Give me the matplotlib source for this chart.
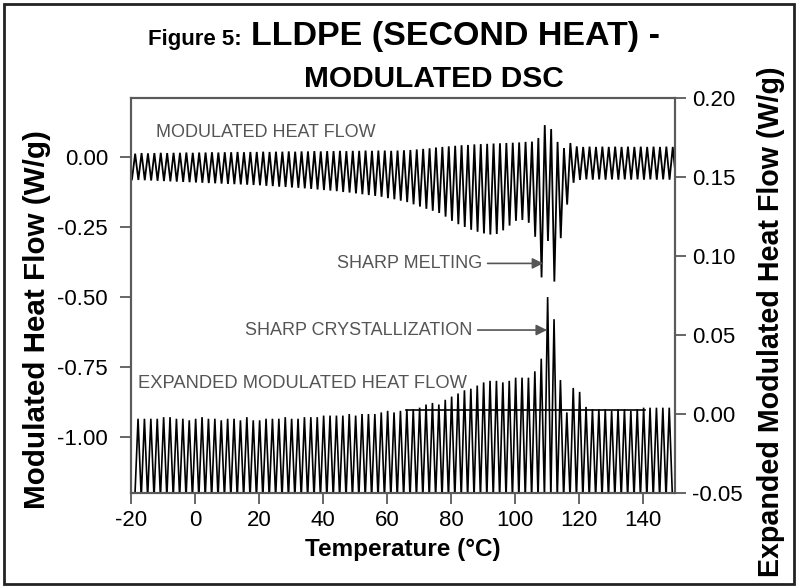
import numpy as np
import matplotlib
matplotlib.use("Agg")
import matplotlib.pyplot as plt
from matplotlib.patches import Rectangle

plt.rcParams['font.family'] = ['Liberation Sans', 'DejaVu Sans']

# ---------------- data ----------------
# Modulated heat flow (left axis, W/g): temperatures of each peak / trough and values
top_peak_T = [-18.7, -16.7, -14.7, -12.7, -10.7, -8.7, -6.7, -4.7, -2.7, -0.7,
              1.3, 3.3, 5.3, 7.3, 9.3, 11.3, 13.3, 15.3, 17.3, 19.3,
              21.3, 23.3, 25.3, 27.3, 29.3, 31.3, 33.3, 35.3, 37.3, 39.3,
              41.3, 43.3, 45.3, 47.3, 49.3, 51.3, 53.3, 55.3, 57.3, 59.3,
              61.3, 63.3, 65.3, 67.3, 69.3, 71.3, 73.3, 75.3, 77.3, 79.3,
              81.3, 83.3, 85.3, 87.3, 89.3, 91.3, 93.3, 95.3, 97.3, 99.3,
              101.3, 103.3, 105.3, 107.3, 109.3, 111.3, 113.3, 115.3, 117.3, 119.3,
              121.3, 123.3, 125.3, 127.3, 129.3, 131.3, 133.3, 135.3, 137.3, 139.3,
              141.3, 143.3, 145.3, 147.3, 149.3]
top_peak_val = [0.012, 0.014, 0.013, 0.014, 0.015, 0.014, 0.015, 0.015, 0.016, 0.015,
                0.016, 0.016, 0.017, 0.016, 0.017, 0.017, 0.018, 0.017, 0.018, 0.018,
                0.019, 0.018, 0.019, 0.019, 0.020, 0.019, 0.020, 0.020, 0.021, 0.020,
                0.021, 0.021, 0.022, 0.021, 0.022, 0.022, 0.023, 0.022, 0.023, 0.023,
                0.022, 0.023, 0.024, 0.025, 0.027, 0.029, 0.031, 0.034, 0.036, 0.038,
                0.040, 0.042, 0.043, 0.045, 0.046, 0.047, 0.048, 0.049, 0.050, 0.051,
                0.052, 0.054, 0.055, 0.068, 0.114, 0.100, 0.054, 0.032, 0.050, 0.038,
                0.036, 0.037, 0.036, 0.037, 0.036, 0.037, 0.036, 0.037, 0.036, 0.037,
                0.036, 0.037, 0.036, 0.037, 0.036]
top_trough_T = [-19.7, -17.7, -15.7, -13.7, -11.7, -9.7, -7.7, -5.7, -3.7, -1.7,
                0.3, 2.3, 4.3, 6.3, 8.3, 10.3, 12.3, 14.3, 16.3, 18.3,
                20.3, 22.3, 24.3, 26.3, 28.3, 30.3, 32.3, 34.3, 36.3, 38.3,
                40.3, 42.3, 44.3, 46.3, 48.3, 50.3, 52.3, 54.3, 56.3, 58.3,
                60.3, 62.3, 64.3, 66.3, 68.3, 70.3, 72.3, 74.3, 76.3, 78.3,
                80.3, 82.3, 84.3, 86.3, 88.3, 90.3, 92.3, 94.3, 96.3, 98.3,
                100.3, 102.3, 104.3, 106.3, 108.3, 110.3, 112.3, 114.3, 116.3, 118.3,
                120.3, 122.3, 124.3, 126.3, 128.3, 130.3, 132.3, 134.3, 136.3, 138.3,
                140.3, 142.3, 144.3, 146.3, 148.3, 150.3]
top_trough_val = [-0.080, -0.082, -0.083, -0.084, -0.085, -0.086, -0.087, -0.088, -0.089, -0.090,
                  -0.091, -0.092, -0.093, -0.094, -0.095, -0.096, -0.097, -0.098, -0.099, -0.100,
                  -0.101, -0.103, -0.104, -0.106, -0.107, -0.109, -0.110, -0.112, -0.114, -0.116,
                  -0.118, -0.120, -0.122, -0.125, -0.127, -0.130, -0.133, -0.136, -0.139, -0.142,
                  -0.147, -0.151, -0.156, -0.161, -0.169, -0.177, -0.185, -0.192, -0.200, -0.213,
                  -0.228, -0.240, -0.250, -0.260, -0.267, -0.273, -0.277, -0.275, -0.262, -0.245,
                  -0.228, -0.225, -0.235, -0.285, -0.430, -0.300, -0.445, -0.290, -0.170, -0.092,
                  -0.082, -0.080, -0.081, -0.080, -0.081, -0.080, -0.081, -0.080, -0.081, -0.080,
                  -0.081, -0.080, -0.081, -0.080, -0.081, -0.080]

# Expanded modulated heat flow (right axis, W/g): peaks; troughs run off the bottom of the scale
exp_peak_T = [-17.8, -15.8, -13.8, -11.8, -9.8, -7.8, -5.8, -3.8, -1.8, 0.2,
              2.2, 4.2, 6.2, 8.2, 10.2, 12.2, 14.2, 16.2, 18.2, 20.2,
              22.2, 24.2, 26.2, 28.2, 30.2, 32.2, 34.2, 36.2, 38.2, 40.2,
              42.2, 44.2, 46.2, 48.2, 50.2, 52.2, 54.2, 56.2, 58.2, 60.2,
              62.2, 64.2, 66.2, 68.2, 70.2, 72.2, 74.2, 76.2, 78.2, 80.2,
              82.2, 84.2, 86.2, 88.2, 90.2, 92.2, 94.2, 96.2, 98.2, 100.2,
              102.2, 104.2, 106.2, 108.2, 110.2, 112.2, 114.2, 116.2, 118.2, 120.2,
              122.2, 124.2, 126.2, 128.2, 130.2, 132.2, 134.2, 136.2, 138.2, 140.2,
              142.2, 144.2, 146.2, 148.2]
exp_peak_val = [-0.003, -0.003, -0.003, -0.003, -0.002, -0.002, -0.003, -0.003, -0.004, -0.003,
                -0.002, -0.003, -0.003, -0.004, -0.003, -0.003, -0.004, -0.002, -0.004, -0.004,
                -0.003, -0.003, -0.003, -0.002, -0.003, -0.003, -0.002, -0.002, -0.002, -0.001,
                -0.001, -0.001, -0.001, 0.000, -0.001, 0.000, 0.000, 0.000, 0.001, 0.002,
                0.001, 0.002, 0.003, 0.003, 0.004, 0.006, 0.007, 0.006, 0.009, 0.011,
                0.013, 0.015, 0.016, 0.018, 0.020, 0.021, 0.021, 0.020, 0.021, 0.023,
                0.023, 0.023, 0.027, 0.035, 0.074, 0.060, 0.0215, 0.001, 0.0165, 0.014,
                0.0045, 0.003, 0.003, 0.003, 0.002, 0.003, 0.003, 0.002, 0.003, 0.004,
                0.004, 0.004, 0.004, 0.004]
exp_trough_T = [-18.8, -16.8, -14.8, -12.8, -10.8, -8.8, -6.8, -4.8, -2.8, -0.8,
                1.2, 3.2, 5.2, 7.2, 9.2, 11.2, 13.2, 15.2, 17.2, 19.2,
                21.2, 23.2, 25.2, 27.2, 29.2, 31.2, 33.2, 35.2, 37.2, 39.2,
                41.2, 43.2, 45.2, 47.2, 49.2, 51.2, 53.2, 55.2, 57.2, 59.2,
                61.2, 63.2, 65.2, 67.2, 69.2, 71.2, 73.2, 75.2, 77.2, 79.2,
                81.2, 83.2, 85.2, 87.2, 89.2, 91.2, 93.2, 95.2, 97.2, 99.2,
                101.2, 103.2, 105.2, 107.2, 109.2, 111.2, 113.2, 115.2, 117.2, 119.2,
                121.2, 123.2, 125.2, 127.2, 129.2, 131.2, 133.2, 135.2, 137.2, 139.2,
                141.2, 143.2, 145.2, 147.2, 149.2]
exp_trough_level = -0.053   # troughs sit just below the bottom of the expanded scale

# baseline drawn across the expanded signal
baseline_T = [66.0, 140.5]
baseline_val = [0.0025, 0.0025]

x_ticks = [-20, 0, 20, 40, 60, 80, 100, 120, 140]
left_ticks = [0.00, -0.25, -0.50, -0.75, -1.00]
right_ticks = [-0.05, 0.00, 0.05, 0.10, 0.15, 0.20]


def zigzag(pk_T, pk_v, tr_T, tr_v):
    T = np.concatenate([pk_T, tr_T])
    V = np.concatenate([pk_v, tr_v])
    order = np.argsort(T)
    return T[order], V[order]


# ---------------- figure ----------------
W, H = 798, 588
fig = plt.figure(figsize=(W / 100, H / 100), dpi=100)
ax = fig.add_axes([131 / W, 1 - 493 / H, (675 - 131) / W, (493 - 98) / H])
ax2 = ax.twinx()

spine_col = '#5a5a5a'
txt_col = '#555555'

tx, tv = zigzag(np.array(top_peak_T), np.array(top_peak_val),
                np.array(top_trough_T), np.array(top_trough_val))
ax.plot(tx, tv, color='black', lw=1.3, solid_joinstyle='miter')

ex, ev = zigzag(np.array(exp_peak_T), np.array(exp_peak_val),
                np.array(exp_trough_T), np.full(len(exp_trough_T), exp_trough_level))
ax2.plot(ex, ev, color='black', lw=1.2, solid_joinstyle='miter')
ax2.plot(baseline_T, baseline_val, color='black', lw=1.2)

ax.set_xlim(-20, 150)
ax.set_ylim(-1.2, 0.2107)
ax2.set_ylim(-0.05, 0.20)

ax.set_xticks(x_ticks)
ax.set_xticklabels([f"{v:d}" for v in x_ticks])
ax.set_yticks(left_ticks)
ax.set_yticklabels([f"{v:.2f}" for v in left_ticks])
ax2.set_yticks(right_ticks)
ax2.set_yticklabels([f"{v:.2f}" for v in right_ticks])

for a in (ax, ax2):
    for s in a.spines.values():
        s.set_color(spine_col)
        s.set_linewidth(1.5)
    a.tick_params(axis='both', which='major', direction='out', length=8, width=1.3,
                  color=spine_col, labelsize=16, pad=4, labelcolor='black')
ax.tick_params(axis='y', pad=8.5)

ax.set_xlabel('Temperature (°C)', fontsize=17.5, fontweight='bold', labelpad=5)
ax.set_ylabel('Modulated Heat Flow (W/g)', fontsize=21.3, fontweight='bold')
ax2.set_ylabel('Expanded Modulated Heat Flow (W/g)', fontsize=20.6, fontweight='bold',
               rotation=90)
ax.yaxis.set_label_coords(-0.147, 0.438)
ax2.yaxis.set_label_coords(1.151, 0.433)

# annotations
ax.text(-12.2, 0.086, 'MODULATED HEAT FLOW', fontsize=13, color=txt_col, va='center', ha='left')
ax.text(-17.8, -0.81, 'EXPANDED MODULATED HEAT FLOW', fontsize=13.2, color=txt_col,
        va='center', ha='left')
ax.annotate('SHARP MELTING', xy=(108.8, -0.380), xytext=(89.7, -0.380),
            fontsize=13, color=txt_col, va='center', ha='right',
            arrowprops=dict(arrowstyle='-|>', color=txt_col, lw=1.2, mutation_scale=16,
                            shrinkA=2, shrinkB=0))
ax.annotate('SHARP CRYSTALLIZATION', xy=(110.0, -0.618), xytext=(86.6, -0.618),
            fontsize=13, color=txt_col, va='center', ha='right',
            arrowprops=dict(arrowstyle='-|>', color=txt_col, lw=1.2, mutation_scale=16,
                            shrinkA=2, shrinkB=0))

# title
fig.text(148 / W, 1 - 39 / H, 'Figure 5:', fontsize=16, fontweight='bold', ha='left', va='center')
fig.text(251 / W, 1 - 36 / H, 'LLDPE (SECOND HEAT) -', fontsize=24.5, fontweight='bold',
         ha='left', va='center')
fig.text(434 / W, 1 - 79 / H, 'MODULATED DSC', fontsize=21.5, fontweight='bold',
         ha='center', va='center')

# outer frame
fig.patches.append(Rectangle((4 / W, 4 / H), 1 - 8 / W, 1 - 8 / H, transform=fig.transFigure,
                             fill=False, edgecolor='#222222', lw=2))

fig.savefig('out.png', dpi=100)
